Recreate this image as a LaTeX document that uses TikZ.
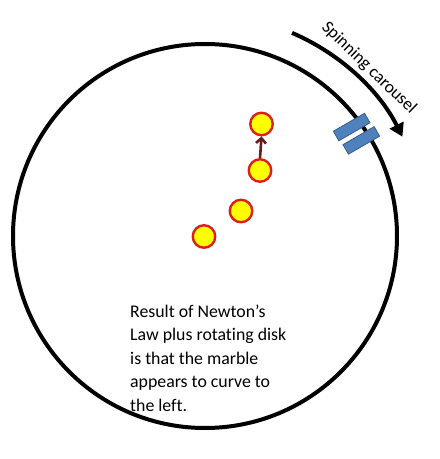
\documentclass[tikz,border=0pt]{standalone}
\usepackage{fontspec}
\setmainfont{Carlito}[Ligatures=NoCommon]
\usetikzlibrary{arrows.meta}
\definecolor{marbleY}{RGB}{255,255,0}
\definecolor{marbleR}{RGB}{220,30,20}
\definecolor{blockfill}{RGB}{79,129,189}
\definecolor{blockline}{RGB}{56,93,138}
\definecolor{pusharrow}{RGB}{100,30,30}
\begin{document}
\begin{tikzpicture}[x=1pt,y=1pt,
  marble/.style={circle,draw=marbleR,fill=marbleY,line width=2.4pt,minimum size=22.5pt,inner sep=0pt},
  block/.style={rectangle,draw=blockline,fill=blockfill,line width=0.8pt,minimum width=36pt,minimum height=11pt,inner sep=0pt,rotate=30},
  bodytext/.style={anchor=base west,inner sep=0pt,font=\fontsize{17.8}{22}\selectfont},
  disk/.style={line width=4pt}]
\useasboundingbox (0,0) rectangle (440,459);
\coordinate (c) at (205,223);
\draw[disk] (c) circle[radius=192];
\coordinate (arcstart) at ([shift={(66.8:221)}]c);
\draw[disk,-{Triangle[length=13pt,width=15pt]}] (arcstart) arc[start angle=66.8,end angle=26.7,radius=221];
\node[rotate=-44,inner sep=0pt,font=\fontsize{17.5}{20}\selectfont] (lbl) at (369,391) {Spinning carousel};
\node[block] (b1) at (351.7,332) {};
\node[block] (b2) at (361.3,318.6) {};
\node[marble] (m1) at (261.5,335) {};
\node[marble] (m2) at (260,288.5) {};
\node[marble] (m3) at (241,248) {};
\node[marble] (m4) at (204,222.5) {};
\draw[pusharrow,line width=2.6pt,-{Straight Barb[length=5pt,width=10pt]}] (m2.north) -- (m1.south);
\node[bodytext] (t1) at (130,141.5) {Result of Newton’s};
\node[bodytext] (t2) at (130,118) {Law plus rotating disk};
\node[bodytext] (t3) at (130,94.5) {is that the marble};
\node[bodytext] (t4) at (130,71) {appears to curve to};
\node[bodytext] (t5) at (130,47.5) {the left.};
\end{tikzpicture}
\end{document}
